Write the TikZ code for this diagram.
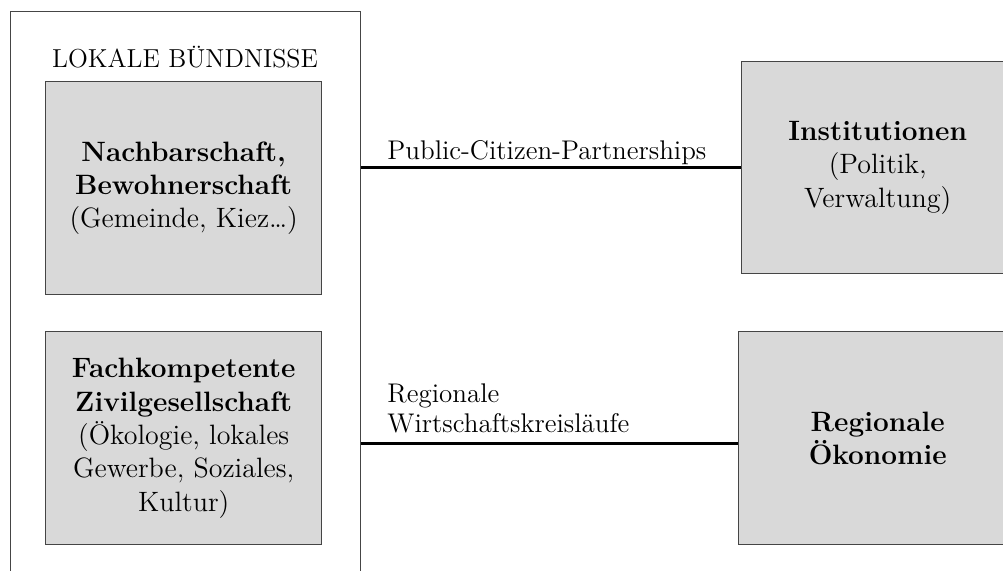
\documentclass[tikz,border=0pt]{standalone}

\definecolor{feldgrau}{HTML}{D9D9D9}
\definecolor{randgrau}{HTML}{454545}

\tikzset{
  rahmen/.style={draw=randgrau, line width=0.6pt, inner sep=0pt},
  feld/.style={draw=randgrau, fill=feldgrau, line width=0.7pt, align=center, inner sep=0pt},
  verbindung/.style={line width=1.5pt},
  beschriftung/.style={align=left, inner sep=0pt, font=\fontsize{13.5}{15}\selectfont}
}

\begin{document}
\begin{tikzpicture}[x=0.5pt, y=0.5pt, font=\fontsize{14}{16.7}\selectfont]
  \useasboundingbox (0,0) rectangle (1003,570);
  % outer frame, runs past the bottom edge
  \node[rahmen, minimum width=175pt, minimum height=300pt, anchor=north west] (lokal) at (10,559) {};
  \node[font=\fontsize{13}{15}\selectfont] (titel) at (185,513) {LOKALE BÜNDNISSE};
  % grey boxes
  \node[feld, minimum width=138pt, minimum height=106.5pt, anchor=north west] (nachbar) at (45,489)
    {\textbf{Nachbarschaft,}\\\textbf{Bewohnerschaft}\\(Gemeinde, Kiez\dots)};
  \node[feld, minimum width=138pt, minimum height=106.5pt, anchor=north west] (fach) at (45,239)
    {\textbf{Fachkompetente}\\\textbf{Zivilgesellschaft}\\(Ökologie, lokales\\Gewerbe, Soziales,\\Kultur)};
  \node[feld, minimum width=136pt, minimum height=106pt, anchor=north west] (inst) at (741,509)
    {\textbf{Institutionen}\\(Politik,\\Verwaltung)};
  \node[feld, minimum width=139pt, minimum height=106.5pt, anchor=north west] (oeko) at (738,239)
    {\textbf{Regionale}\\\textbf{Ökonomie}};
  % connectors
  \coordinate (oeko-anschluss) at ([yshift=-2.75pt]oeko.west);
  \draw[verbindung] (lokal.east |- inst.west) -- (inst.west);
  \draw[verbindung] (lokal.east |- oeko-anschluss) -- (oeko-anschluss);
  \node[beschriftung, anchor=base west] (pcp) at (387,411) {Public-Citizen-Partnerships};
  \node[beschriftung, anchor=south west] (kreis) at (387,137) {Regionale\\Wirtschaftskreisläufe};
\end{tikzpicture}
\end{document}
